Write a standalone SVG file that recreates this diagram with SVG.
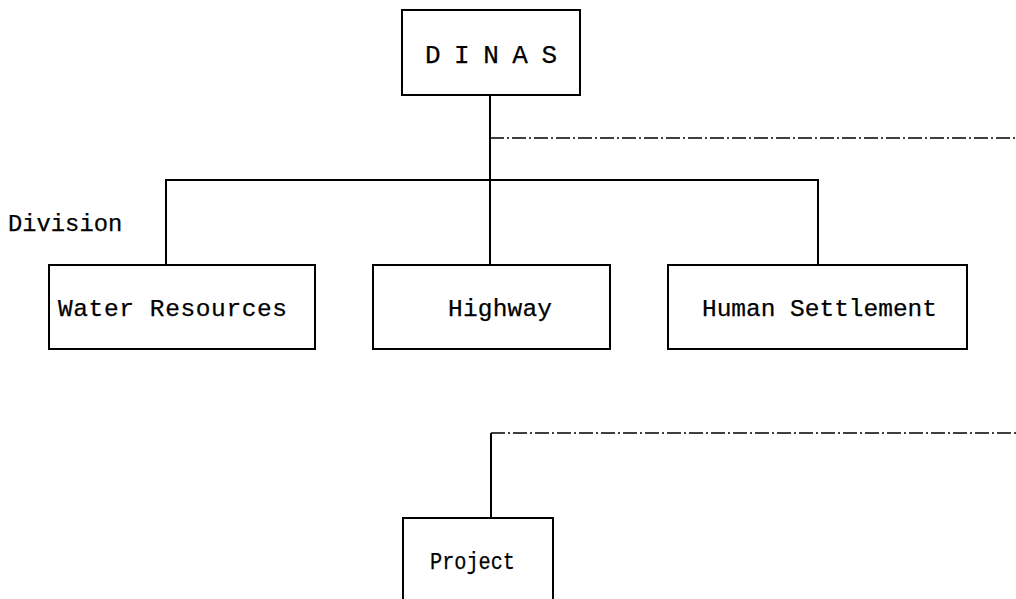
<svg xmlns="http://www.w3.org/2000/svg" width="1016" height="599" viewBox="0 0 1016 599">
<style>
.box{fill:#fff;stroke:#000;stroke-width:2}
.ln{fill:none;stroke:#000;stroke-width:2}
.dd{fill:none;stroke:#000;stroke-width:1.6;stroke-dasharray:14 3 2 3}
.t{font-family:"Liberation Mono","DejaVu Sans Mono",monospace;font-size:24.5px;fill:#000;stroke:#000;stroke-width:0.25}
</style>
<rect width="1016" height="599" fill="#fff"/>
<g id="connectors">
<line class="ln" x1="490" y1="95" x2="490" y2="265"/>
<line class="dd" x1="490" y1="138" x2="1016" y2="138"/>
<polyline class="ln" points="166,265 166,180 818,180 818,265"/>
<line class="dd" x1="491" y1="433" x2="1016" y2="433"/>
<line class="ln" x1="491" y1="433" x2="491" y2="518"/>
</g>
<g id="dinas">
<rect class="box" x="402" y="10" width="178" height="85"/>
<text class="t" x="425" y="63" style="font-size:26px" textLength="132">D I N A S</text>
</g>
<g id="division-label">
<text class="t" x="8" y="231" style="font-size:23.8px">Division</text>
</g>
<g id="water">
<rect class="box" x="49" y="265" width="266" height="84"/>
<text class="t" x="58" y="316" textLength="229">Water Resources</text>
</g>
<g id="highway">
<rect class="box" x="373" y="265" width="237" height="84"/>
<text class="t" x="448" y="316" textLength="104">Highway</text>
</g>
<g id="human">
<rect class="box" x="668" y="265" width="299" height="84"/>
<text class="t" x="702" y="316" textLength="235">Human Settlement</text>
</g>
<g id="project">
<rect class="box" x="403" y="518" width="150" height="100"/>
<text class="t" x="430" y="569" style="font-size:23px" textLength="85" lengthAdjust="spacingAndGlyphs">Project</text>
</g>
</svg>
